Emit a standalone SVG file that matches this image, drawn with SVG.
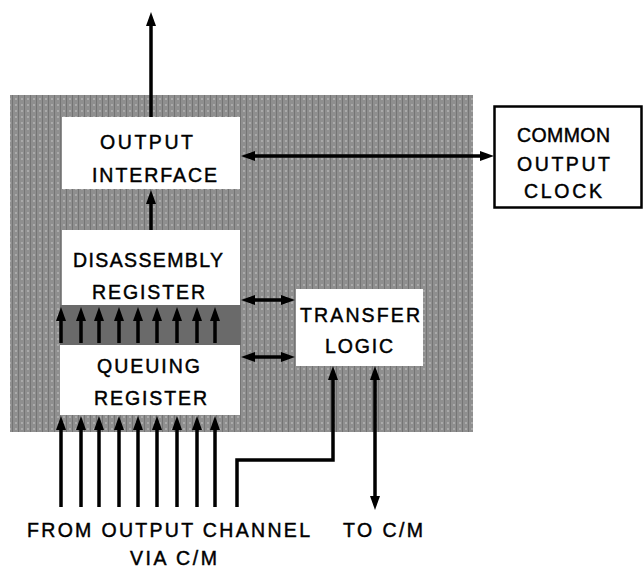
<svg xmlns="http://www.w3.org/2000/svg" width="644" height="572" viewBox="0 0 644 572">
  <style>
    .lbl { font-family: "Liberation Sans", Arial, sans-serif; font-size: 19.5px; fill: #000; stroke: #000; stroke-width: 0.45; }
    .box { fill: #fff; }
    .arr { stroke: #000; stroke-width: 3.5; fill: none; marker-end: url(#ah); }
    .darr { stroke: #000; stroke-width: 3.5; fill: none; marker-start: url(#ah); marker-end: url(#ah); }
  </style>
  <defs>
    <marker id="ah" markerUnits="userSpaceOnUse" markerWidth="15" markerHeight="11" refX="5" refY="5" orient="auto-start-reverse" viewBox="0 0 15 11">
      <path d="M0,0 L14,5 L0,10 z" fill="#000"/>
    </marker>
    <pattern id="tex" width="6" height="6" patternUnits="userSpaceOnUse">
      <rect width="6" height="6" fill="#8f8f8f"/>
      <rect x="0" y="0" width="1" height="6" fill="#747474"/>
      <rect x="3" y="2" width="2" height="2" fill="#aaaaaa"/>
    </pattern>
  </defs>

  <g id="background">
    <rect x="10" y="95" width="463" height="337" fill="url(#tex)"/>
    <rect x="60" y="305" width="181" height="40" fill="#6a6a6a"/>
  </g>

  <g id="output-interface">
    <rect class="box" x="62" y="117" width="178" height="72"/>
    <text class="lbl" x="100" y="149" textLength="93">OUTPUT</text>
    <text class="lbl" x="92" y="182" textLength="125">INTERFACE</text>
  </g>

  <g id="disassembly-register">
    <rect class="box" x="62" y="230" width="178" height="75"/>
    <text class="lbl" x="73" y="267" textLength="150">DISASSEMBLY</text>
    <text class="lbl" x="92" y="299" textLength="113">REGISTER</text>
  </g>

  <g id="queuing-register">
    <rect class="box" x="60" y="345" width="180" height="70"/>
    <text class="lbl" x="97" y="373" textLength="103">QUEUING</text>
    <text class="lbl" x="94" y="405" textLength="113">REGISTER</text>
  </g>

  <g id="transfer-logic">
    <rect class="box" x="296" y="289" width="127" height="77"/>
    <text class="lbl" x="300" y="322" textLength="120">TRANSFER</text>
    <text class="lbl" x="325" y="353" textLength="68">LOGIC</text>
  </g>

  <g id="common-output-clock">
    <rect x="494.5" y="106.5" width="147" height="101" fill="#fff" stroke="#000" stroke-width="2.5"/>
    <text class="lbl" x="517" y="142" textLength="93">COMMON</text>
    <text class="lbl" x="517" y="171" textLength="93">OUTPUT</text>
    <text class="lbl" x="524" y="198" textLength="78">CLOCK</text>
  </g>

  <g id="labels">
    <text class="lbl" x="27" y="537" textLength="283">FROM OUTPUT CHANNEL</text>
    <text class="lbl" x="130" y="565" textLength="87">VIA C/M</text>
    <text class="lbl" x="343" y="537" textLength="80">TO C/M</text>
  </g>

  <g id="connectors">
    <line class="arr" x1="151" y1="117" x2="151" y2="21"/>
    <line class="arr" x1="151" y1="230" x2="151" y2="199"/>
    <line class="darr" x1="250" y1="156" x2="485" y2="156"/>
    <line class="darr" x1="250" y1="300" x2="286" y2="300"/>
    <line class="darr" x1="250" y1="357" x2="286" y2="357"/>
    <g id="bus-up">
      <line class="arr" x1="61" y1="343" x2="61" y2="316"/>
      <line class="arr" x1="81" y1="343" x2="81" y2="316"/>
      <line class="arr" x1="99" y1="343" x2="99" y2="316"/>
      <line class="arr" x1="119" y1="343" x2="119" y2="316"/>
      <line class="arr" x1="138" y1="343" x2="138" y2="316"/>
      <line class="arr" x1="157" y1="343" x2="157" y2="316"/>
      <line class="arr" x1="177" y1="343" x2="177" y2="316"/>
      <line class="arr" x1="197" y1="343" x2="197" y2="316"/>
      <line class="arr" x1="215" y1="343" x2="215" y2="316"/>
    </g>
    <g id="bus-in">
      <line class="arr" x1="61" y1="507" x2="61" y2="425"/>
      <line class="arr" x1="81" y1="507" x2="81" y2="425"/>
      <line class="arr" x1="99" y1="507" x2="99" y2="425"/>
      <line class="arr" x1="119" y1="507" x2="119" y2="425"/>
      <line class="arr" x1="138" y1="507" x2="138" y2="425"/>
      <line class="arr" x1="157" y1="507" x2="157" y2="425"/>
      <line class="arr" x1="177" y1="507" x2="177" y2="425"/>
      <line class="arr" x1="197" y1="507" x2="197" y2="425"/>
      <line class="arr" x1="215" y1="507" x2="215" y2="425"/>
    </g>
    <path class="arr" d="M237,507 V460 H333 V375"/>
    <line class="darr" x1="375" y1="375" x2="375" y2="501"/>
  </g>
</svg>
